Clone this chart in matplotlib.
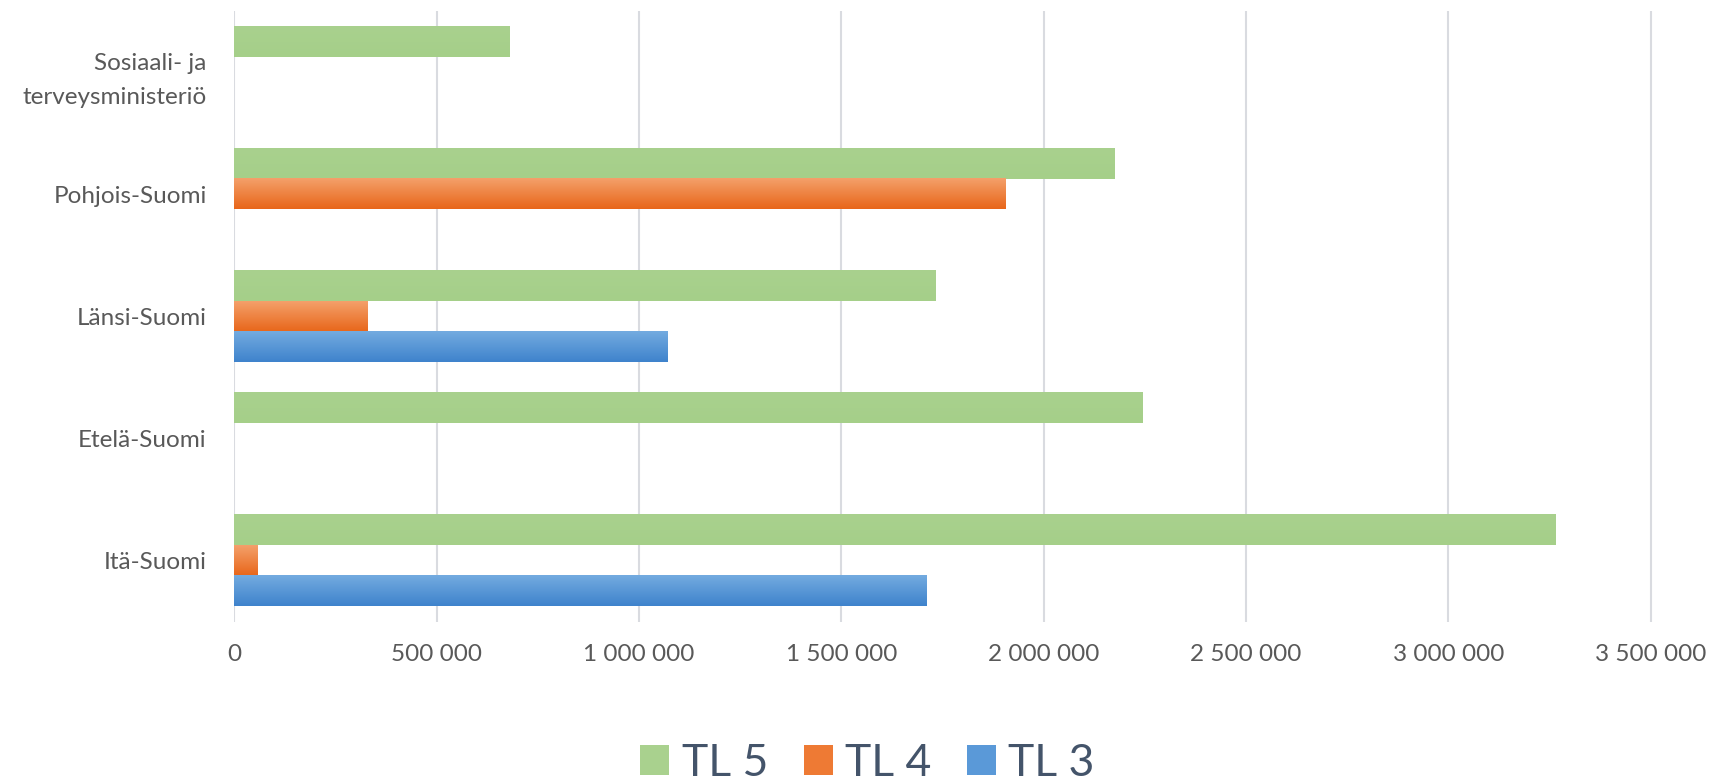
import matplotlib
matplotlib.use('Agg')
import matplotlib.pyplot as plt
from matplotlib.colors import LinearSegmentedColormap
from matplotlib.patches import Patch
from matplotlib.ticker import FuncFormatter
import numpy as np

plt.rcParams['font.family'] = ['Lato', 'DejaVu Sans']

# kategoriat alhaalta ylös
categories = ['Itä-Suomi', 'Etelä-Suomi', 'Länsi-Suomi', 'Pohjois-Suomi',
              'Sosiaali- ja\nterveysministeriö']
tl5 = [3265000, 2244000, 1734000, 2176000, 680000]
tl4 = [57000, 0, 329000, 1907000, 0]
tl3 = [1712000, 0, 1071000, 0, 0]
series_names = ['TL 5', 'TL 4', 'TL 3']
xticks = [0, 500000, 1000000, 1500000, 2000000, 2500000, 3000000, 3500000]

text_col = '#595959'
grid_col = '#D9DBE0'

fig = plt.figure(figsize=(17.11, 7.83), dpi=100)
ax = fig.add_axes([0.137, 0.206, 0.8325, 0.780])

y = np.arange(len(categories))
h = 0.25

# värit: (ylä, ala) liukuväri
cols = {
    'TL 5': ('#A9D18E', '#A5CF89'),
    'TL 4': ('#F4A06A', '#E8661A'),
    'TL 3': ('#73ABE0', '#3F83CC'),
}

for vals, name, off in [(tl5, 'TL 5', h), (tl4, 'TL 4', 0), (tl3, 'TL 3', -h)]:
    top, bot = cols[name]
    bars = ax.barh(y + off, vals, height=h, color=bot, zorder=2)
    cmap = LinearSegmentedColormap.from_list(name, [bot, top])
    grad = np.linspace(0, 1, 50).reshape(-1, 1)
    for b in bars:
        if b.get_width() <= 0:
            continue
        x0, y0 = b.get_x(), b.get_y()
        ax.imshow(grad, extent=[x0, x0 + b.get_width(), y0, y0 + b.get_height()],
                  origin='lower', aspect='auto', cmap=cmap, zorder=3)

ax.set_xlim(0, 3520000)
ax.set_ylim(-0.5, len(categories) - 0.5)
ax.set_xticks(xticks)
ax.xaxis.set_major_formatter(FuncFormatter(lambda v, p: f'{int(v):,}'.replace(',', ' ')))
ax.set_yticks(y)
ax.set_yticklabels(categories, linespacing=1.75)

ax.grid(axis='x', color=grid_col, linewidth=1.5, zorder=0)
ax.set_axisbelow(True)
for s in ax.spines.values():
    s.set_visible(False)
ax.tick_params(length=0, colors=text_col, labelsize=17.5)
ax.tick_params(axis='x', pad=16)
ax.tick_params(axis='y', pad=20)

handles = [Patch(facecolor=cols['TL 5'][0]), Patch(facecolor='#EE7A34'), Patch(facecolor='#5A99D8')]
leg = fig.legend(handles, series_names, loc='center', bbox_to_anchor=(0.507, 0.025),
                 ncol=3, frameon=False, fontsize=32, handlelength=0.65, handleheight=0.65,
                 handletextpad=0.28, columnspacing=0.8)
for t in leg.get_texts():
    t.set_color('#44546A')

fig.savefig('out.png', dpi=100)
